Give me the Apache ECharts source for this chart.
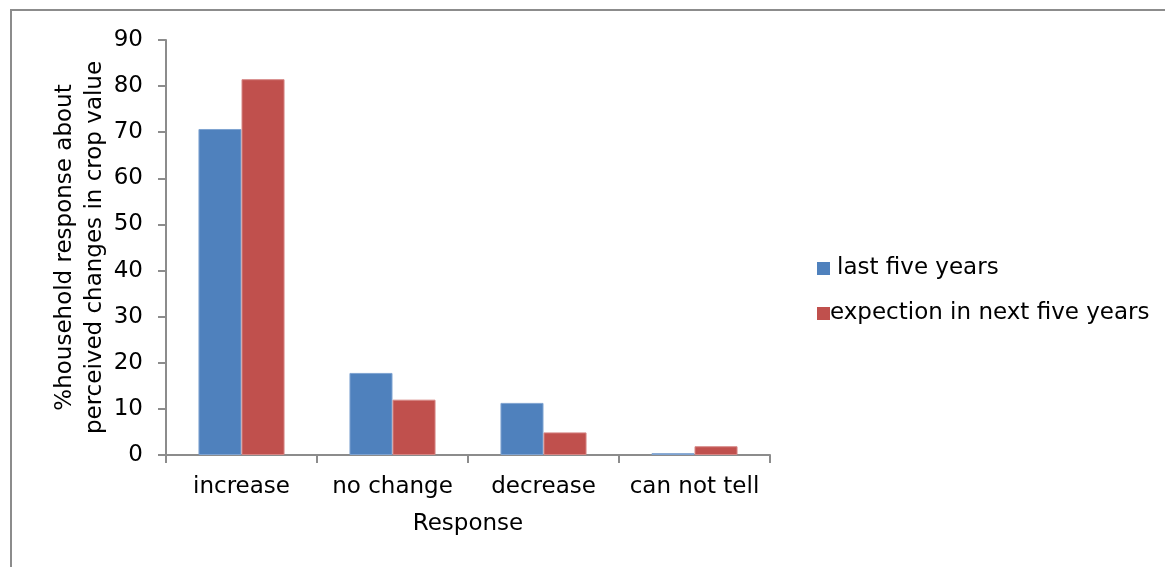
<!DOCTYPE html>
<html>
<head>
<meta charset="utf-8">
<script src="https://cdn.jsdelivr.net/npm/echarts@6/dist/echarts.min.js"></script>
<style>html,body{margin:0;padding:0;background:#fff;}#c{width:1165px;height:567px;}</style>
</head>
<body>
<div id="c"></div>
<script>
const categories = ["increase", "no change", "decrease", "can not tell"];
const lastFiveYears = [70.7, 17.8, 11.3, 0.4];
const nextFiveYears = [81.5, 12.0, 4.9, 1.9];
const seriesNames = ["last five years", "expection in next five years"];
const yTicks = { min: 0, max: 90, interval: 10 };

const FONT = "DejaVu Sans";
const FS = 23;
const axisGray = "#8c8c8c";
const chart = echarts.init(document.getElementById("c"), null, { renderer: "canvas" });
chart.setOption({
  animation: false,
  backgroundColor: "#ffffff",
  textStyle: { fontFamily: FONT, color: "#000" },
  graphic: [{
    type: "rect", silent: true, z: -1,
    shape: { x: 11, y: 10, width: 1200, height: 600 },
    style: { fill: "none", stroke: "#8c8c8c", lineWidth: 2 }
  }],
  grid: { left: 166, right: 395, top: 40, bottom: 112, containLabel: false },
  legend: [{
    data: [seriesNames[0]], orient: "vertical", left: 812, top: 252,
    itemWidth: 13, itemHeight: 13, icon: "rect",
    itemStyle: { borderWidth: 0 },
    textStyle: { fontFamily: FONT, fontSize: FS, color: "#000", padding: [0, 0, 0, 2] }
  }, {
    data: [seriesNames[1]], orient: "vertical", left: 812, top: 297,
    itemWidth: 13, itemHeight: 13, icon: "rect",
    itemStyle: { borderWidth: 0 },
    textStyle: { fontFamily: FONT, fontSize: FS, color: "#000", padding: [0, 0, 0, -5] }
  }],
  xAxis: {
    type: "category", data: categories,
    name: "Response", nameLocation: "middle", nameGap: 58, nameMoveOverlap: false,
    nameTextStyle: { fontFamily: FONT, fontSize: FS, color: "#000" },
    axisLine: { lineStyle: { color: axisGray, width: 2 } },
    axisTick: { show: true, interval: 0, length: 8, lineStyle: { color: axisGray, width: 2 } },
    axisLabel: { interval: 0, fontFamily: FONT, fontSize: FS, color: "#000", margin: 21 }
  },
  yAxis: {
    type: "value", min: yTicks.min, max: yTicks.max, interval: yTicks.interval,
    name: "%household response about\nperceived changes in crop value",
    nameLocation: "middle", nameGap: 56, nameRotate: 90, nameMoveOverlap: false,
    nameTextStyle: { fontFamily: FONT, fontSize: FS, color: "#000", lineHeight: 30, align: "center" },
    axisLine: { show: true, lineStyle: { color: axisGray, width: 2 } },
    axisTick: { show: true, length: 8, lineStyle: { color: axisGray, width: 2 } },
    splitLine: { show: false },
    axisLabel: { fontFamily: FONT, fontSize: FS, color: "#000", margin: 23 }
  },
  series: [{
    name: seriesNames[0], type: "bar", data: lastFiveYears,
    barGap: "0%", barCategoryGap: "43%",
    itemStyle: { color: "#4F81BD", borderColor: "#7fa3d1", borderWidth: 1 }
  }, {
    name: seriesNames[1], type: "bar", data: nextFiveYears,
    barGap: "0%", barCategoryGap: "43%",
    itemStyle: { color: "#C0504D", borderColor: "#d68684", borderWidth: 1 }
  }]
});
</script>
</body>
</html>
